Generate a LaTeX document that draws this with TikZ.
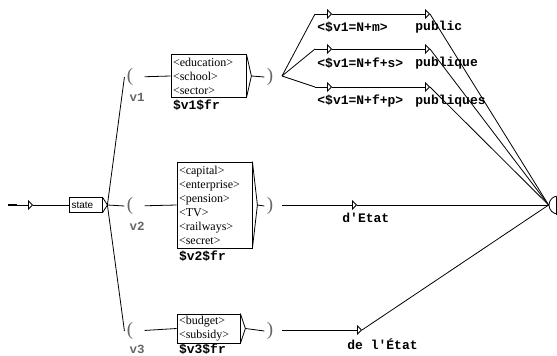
\documentclass[tikz,border=0pt]{standalone}
\usepackage{fontspec}
\setmainfont{Liberation Serif}
\setsansfont{Liberation Sans}
\setmonofont{Liberation Mono}
\usetikzlibrary{arrows.meta}

\begin{document}
\begin{tikzpicture}[x=1pt, y=-1pt, line width=0.8pt,
    seqbox/.style={draw, inner xsep=2pt, inner ysep=0pt, align=left,
      font=\fontsize{12}{14}\selectfont},
    outtext/.style={inner sep=0pt, anchor=west,
      font=\fontsize{13}{13}\selectfont\ttfamily\bfseries},
    paren/.style={inner xsep=2pt, inner ysep=0pt, text=black!60,
      font=\fontsize{19}{19}\selectfont},
    varname/.style={inner sep=0pt, text=black!60,
      font=\fontsize{12.5}{12.5}\selectfont\ttfamily\bfseries},
    entry/.style={-{Triangle[open, length=5pt, width=10pt]}}]

  \useasboundingbox (0,0) rectangle (557,356);

  % initial state
  \coordinate (start) at (8,205);
  \coordinate (stub) at (17,205);
  \coordinate (init) at (33,205);
  \node[draw, text width=28pt, inner xsep=2.5pt, minimum height=15pt,
    font=\fontsize{10}{12}\selectfont\sffamily] (state) at (85.5,205) {state};

  % variables v1, v2, v3
  \node[paren] (open1) at (130,77) {(};
  \node[paren] (open2) at (130,206) {(};
  \node[paren] (open3) at (130,331) {(};
  \node[varname] (v1) at (137,97) {v1};
  \node[varname] (v2) at (137,226) {v2};
  \node[varname] (v3) at (137,349) {v3};

  \node[seqbox, text width=71pt, minimum height=43pt] (box1) at (208.5,76)
    {<education>\\<school>\\<sector>};
  \node[seqbox, text width=71pt, minimum height=86pt] (box2) at (214.5,205)
    {<capital>\\<enterprise>\\<pension>\\<TV>\\<railways>\\<secret>};
  \node[seqbox, text width=59pt, minimum height=29pt] (box3) at (208.5,328.5)
    {<budget>\\<subsidy>};

  \node[outtext, anchor=north west] (fr1) at ([xshift=2pt, yshift=-2pt]box1.south west) {\$v1\$fr};
  \node[outtext, anchor=north west] (fr2) at ([xshift=2pt, yshift=-2pt]box2.south west) {\$v2\$fr};
  \node[outtext, anchor=north west] (fr3) at ([xshift=2pt]box3.south west) {\$v3\$fr};

  \node[paren] (close1) at (270,77) {)};
  \node[paren] (close2) at (270,206) {)};
  \node[paren] (close3) at (270,331) {)};

  % box outputs
  \foreach \b in {state,box1,box2,box3}
    \draw (\b.north east) -- ([xshift=5pt]\b.east) -- (\b.south east);
  \coordinate (state-out) at ([xshift=5pt]state.east);
  \coordinate (box1-out) at ([xshift=5pt]box1.east);
  \coordinate (box2-out) at ([xshift=5pt]box2.east);
  \coordinate (box3-out) at ([xshift=5pt]box3.east);
  \coordinate (fan) at (282,76);
  \coordinate (after2) at (282,205);
  \coordinate (after3) at (282,330);

  % epsilon boxes with outputs
  \coordinate (c1) at (315,14);
  \coordinate (c2) at (315,49);
  \coordinate (c3) at (315,87);
  \coordinate (m1) at (332,14);
  \coordinate (m2) at (332,49);
  \coordinate (m3) at (332,87);
  \coordinate (p1) at (430,14);
  \coordinate (p2) at (430,49);
  \coordinate (p3) at (430,87);
  \coordinate (etat) at (357,205);
  \coordinate (letat) at (362,330);
  \node[outtext] (m1-out) at (317,27) {<\$v1=N+m>};
  \node[outtext] (m2-out) at (317,63) {<\$v1=N+f+s>};
  \node[outtext] (m3-out) at (317,101) {<\$v1=N+f+p>};
  \node[outtext] (p1-out) at (415,27) {public};
  \node[outtext] (p2-out) at (415,63) {publique};
  \node[outtext] (p3-out) at (415,101) {publiques};
  \node[outtext] (etat-out) at (342,218) {d'Etat};
  \node[outtext] (letat-out) at (347,344) {de l'État};

  % final state
  \begin{scope}
    \clip (0,0) rectangle (557,356);
    \node[draw, circle, minimum size=18pt, inner sep=0pt] (final) at (558,205) {};
    \draw (556,197) rectangle (568,214);
  \end{scope}

  % transitions
  \draw[line width=1.6pt] (start) -- (stub);
  \draw[entry] (stub) -- (init);
  \draw (init) -- (state);
  \draw (state-out) -- (open1.west);
  \draw (state-out) -- (open2.west);
  \draw (state-out) -- (open3.west);
  \draw[shorten <=9pt] (open1.east) -- (box1.west);
  \draw[shorten <=9pt] (open2.east) -- (box2.west);
  \draw[shorten <=9pt] (open3.east) -- (box3.west);
  \draw (box1-out) -- (close1.west);
  \draw (box2-out) -- (close2.west);
  \draw (box3-out) -- (close3.west);

  \draw (fan) -- (c1);
  \draw (fan) -- (c2);
  \draw (fan) -- (c3);
  \draw[entry] (c1) -- (m1);
  \draw[entry] (c2) -- (m2);
  \draw[entry] (c3) -- (m3);
  \draw[entry] (m1) -- (p1);
  \draw[entry] (m2) -- (p2);
  \draw[entry] (m3) -- (p3);
  \draw (p1) -- (final.west);
  \draw (p2) -- (final.west);
  \draw (p3) -- (final.west);

  \draw[entry] (after2) -- (etat);
  \draw (etat) -- (final.west);
  \draw[entry] (after3) -- (letat);
  \draw (letat) -- (final.west);
\end{tikzpicture}
\end{document}
